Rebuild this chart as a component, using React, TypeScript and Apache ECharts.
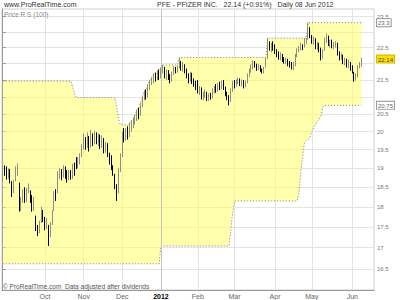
import React, { useEffect, useRef } from 'react';
import * as echarts from 'echarts';

// Month boundaries (trading-day index) and their labels
const monthStarts = [23, 44, 65, 86, 106, 126, 148, 168, 190];
const monthLabels = ['Oct', 'Nov', 'Dec', '2012', 'Feb', 'Mar', 'Apr', 'May', 'Jun'];

// Price grid (log scale) and visible tick labels
const yTickPrices = [16.5, 17, 17.5, 18, 18.5, 19, 19.5, 20, 20.5, 21, 21.5, 22, 22.5, 23, 23.5];
const yLabelPrices = [16.5, 17, 17.5, 18, 18.5, 19, 19.5, 20, 20.5, 21.5, 22.5, 23.5];
const yRange = [16.02, 23.75];

const lastClose = 22.14;
const upperLast = 23.3;
const lowerLast = 20.75;

// Daily bars: [open, close, low, high]  (30 Aug 2011 .. 08 Jun 2012)
const bars: number[][] = [
  [18.75, 18.95, 18.65, 19.05], [18.95, 18.90, 18.80, 19.08],
  [18.95, 18.85, 18.70, 19.05], [18.80, 18.95, 18.72, 19.00], [18.90, 18.70, 18.60, 18.98], [18.62, 18.35, 18.25, 18.66],
  [18.40, 18.60, 18.35, 18.70], [18.70, 18.95, 18.65, 19.05], [18.90, 19.05, 18.80, 19.13], [18.60, 17.95, 17.88, 18.62],
  [17.95, 18.10, 17.90, 18.25], [18.20, 18.30, 18.10, 18.45], [18.35, 18.15, 18.10, 18.50], [18.20, 18.40, 18.12, 18.48],
  [18.40, 18.55, 18.35, 18.60], [18.40, 18.20, 18.10, 18.42], [18.15, 17.95, 17.88, 18.30], [18.00, 18.10, 17.90, 18.25],
  [17.75, 17.45, 17.40, 17.78], [17.40, 17.35, 17.28, 17.55], [17.40, 17.55, 17.35, 17.65], [17.65, 17.90, 17.60, 18.00],
  [17.85, 17.70, 17.62, 17.92], [17.65, 17.50, 17.42, 17.75], [17.55, 17.60, 17.45, 17.72], [17.45, 17.25, 17.04, 17.55],
  [17.30, 17.55, 17.25, 17.62], [17.60, 17.85, 17.55, 17.92], [17.95, 18.30, 17.90, 18.40], [18.35, 18.25, 18.15, 18.45],
  [18.40, 18.85, 18.35, 18.92], [18.85, 18.90, 18.72, 19.00], [18.90, 18.75, 18.68, 18.98], [18.80, 19.00, 18.75, 19.08],
  [18.95, 18.80, 18.72, 19.05], [18.90, 18.70, 18.62, 18.95], [18.75, 18.85, 18.68, 18.95], [18.85, 18.80, 18.70, 18.95],
  [18.85, 19.05, 18.72, 19.12], [19.05, 18.90, 18.80, 19.15], [19.25, 19.05, 18.98, 19.30], [19.05, 19.20, 19.00, 19.30],
  [19.20, 19.30, 19.10, 19.40], [19.35, 19.55, 19.30, 19.65], [19.60, 19.75, 19.50, 19.95], [19.75, 19.60, 19.50, 19.85],
  [19.65, 19.85, 19.55, 19.98], [19.80, 19.55, 19.45, 19.88], [19.60, 19.90, 19.55, 20.05], [19.90, 19.70, 19.60, 19.95],
  [19.75, 19.95, 19.65, 20.02], [19.90, 19.75, 19.65, 19.98], [19.75, 19.85, 19.60, 19.95], [19.85, 19.60, 19.52, 19.92],
  [19.65, 19.80, 19.55, 19.90], [19.75, 19.50, 19.40, 19.82], [19.50, 19.65, 19.42, 19.72], [19.60, 19.35, 19.30, 19.68],
  [19.35, 19.20, 19.10, 19.42], [19.25, 19.00, 18.95, 19.35], [19.00, 18.85, 18.80, 19.08], [18.80, 18.55, 18.45, 18.85],
  [18.50, 18.30, 18.15, 18.58], [18.40, 18.95, 18.35, 19.00], [18.95, 19.30, 18.90, 19.40], [19.35, 19.90, 19.30, 20.00],
  [19.95, 19.80, 19.70, 20.10], [19.80, 20.00, 19.75, 20.10], [20.05, 19.85, 19.78, 20.15], [19.90, 20.10, 19.85, 20.25],
  [20.10, 20.20, 20.00, 20.32], [20.20, 20.25, 20.10, 20.38], [20.30, 20.35, 20.20, 20.48], [20.40, 20.55, 20.30, 20.62],
  [20.55, 20.50, 20.35, 20.68], [20.55, 20.75, 20.45, 20.82], [20.80, 20.95, 20.70, 21.02], [21.00, 21.10, 20.90, 21.18],
  [21.10, 21.00, 20.92, 21.22], [21.05, 21.25, 20.98, 21.38], [21.30, 21.45, 21.20, 21.50], [21.45, 21.50, 21.35, 21.58],
  [21.50, 21.65, 21.40, 21.70], [21.65, 21.55, 21.45, 21.72], [21.55, 21.70, 21.50, 21.78], [21.70, 21.60, 21.50, 21.82],
  [21.65, 21.80, 21.55, 21.88], [21.80, 21.90, 21.70, 21.96], [21.85, 21.60, 21.55, 21.90], [21.60, 21.75, 21.50, 21.82],
  [21.75, 21.60, 21.50, 21.80], [21.60, 21.50, 21.40, 21.68], [21.50, 21.70, 21.45, 21.75], [21.70, 21.85, 21.65, 21.92],
  [21.85, 21.80, 21.70, 21.90], [21.80, 21.90, 21.72, 21.95], [21.95, 22.00, 21.85, 22.19], [22.00, 21.85, 21.78, 22.08],
  [21.85, 21.95, 21.75, 22.05], [21.95, 21.80, 21.70, 21.98], [21.80, 21.65, 21.55, 21.85], [21.65, 21.50, 21.40, 21.70],
  [21.50, 21.70, 21.45, 21.75], [21.65, 21.45, 21.38, 21.72], [21.45, 21.40, 21.30, 21.55], [21.40, 21.30, 21.20, 21.48],
  [21.45, 21.15, 21.10, 21.50], [21.15, 21.25, 21.05, 21.32], [21.20, 21.00, 20.92, 21.28], [21.00, 21.05, 20.90, 21.15],
  [21.05, 21.15, 20.98, 21.22], [21.10, 20.95, 20.88, 21.15], [20.95, 21.05, 20.88, 21.10], [21.05, 21.00, 20.92, 21.12],
  [21.00, 21.20, 20.95, 21.25], [21.20, 21.25, 21.10, 21.32], [21.30, 21.20, 21.12, 21.38], [21.20, 21.35, 21.15, 21.42],
  [21.35, 21.30, 21.20, 21.45], [21.30, 21.40, 21.22, 21.48], [21.45, 21.25, 21.20, 21.50], [21.25, 21.10, 21.02, 21.30],
  [21.10, 21.00, 20.90, 21.15], [21.00, 20.90, 20.75, 21.05], [20.90, 21.20, 20.85, 21.25], [21.20, 21.40, 21.15, 21.48],
  [21.40, 21.35, 21.25, 21.50], [21.35, 21.45, 21.30, 21.52], [21.45, 21.50, 21.38, 21.58], [21.50, 21.40, 21.32, 21.55],
  [21.40, 21.45, 21.30, 21.52], [21.45, 21.35, 21.25, 21.50], [21.35, 21.40, 21.28, 21.48], [21.45, 21.65, 21.40, 21.70],
  [21.65, 21.80, 21.60, 21.85], [21.80, 21.90, 21.72, 21.98], [21.90, 22.00, 21.82, 22.10], [22.00, 21.95, 21.88, 22.08],
  [21.95, 21.85, 21.78, 22.00], [21.85, 21.90, 21.80, 21.98], [21.90, 21.80, 21.75, 21.95], [21.80, 21.75, 21.70, 21.85],
  [21.75, 21.85, 21.70, 21.90], [21.90, 22.15, 21.88, 22.19], [22.20, 22.60, 22.15, 22.80], [22.60, 22.45, 22.40, 22.70],
  [22.45, 22.55, 22.35, 22.65], [22.55, 22.50, 22.40, 22.70], [22.50, 22.40, 22.30, 22.60], [22.40, 22.30, 22.20, 22.45],
  [22.30, 22.20, 22.12, 22.38], [22.20, 22.25, 22.10, 22.35], [22.25, 22.15, 22.05, 22.30], [22.15, 22.05, 22.00, 22.20],
  [22.05, 22.10, 21.98, 22.18], [22.10, 22.00, 21.92, 22.15], [22.00, 21.95, 21.88, 22.08], [21.95, 21.90, 21.82, 22.05],
  [21.90, 21.95, 21.80, 22.05], [21.95, 22.25, 21.92, 22.30], [22.25, 22.40, 22.20, 22.48], [22.40, 22.45, 22.35, 22.55],
  [22.45, 22.55, 22.40, 22.65], [22.55, 22.50, 22.42, 22.60], [22.55, 22.70, 22.50, 22.80], [22.70, 22.78, 22.60, 22.80],
  [22.80, 23.15, 22.75, 23.30], [23.10, 22.85, 22.80, 23.15], [22.85, 22.70, 22.62, 22.90], [22.70, 22.75, 22.60, 22.85],
  [22.75, 22.50, 22.45, 22.80], [22.50, 22.60, 22.42, 22.68], [22.60, 22.45, 22.35, 22.65], [22.45, 22.20, 22.10, 22.50],
  [22.20, 22.40, 22.15, 22.45], [22.45, 22.75, 22.40, 22.82], [22.75, 22.85, 22.65, 22.95], [22.85, 22.60, 22.55, 22.88],
  [22.60, 22.70, 22.50, 22.75], [22.70, 22.55, 22.48, 22.75], [22.55, 22.60, 22.45, 22.68], [22.60, 22.65, 22.50, 22.70],
  [22.60, 22.30, 22.25, 22.65], [22.30, 22.20, 22.10, 22.38], [22.20, 22.25, 22.12, 22.32], [22.25, 22.05, 21.98, 22.28],
  [22.05, 22.10, 21.95, 22.18], [22.10, 21.95, 21.88, 22.15], [21.95, 22.00, 21.85, 22.12], [22.00, 21.85, 21.78, 22.05],
  [21.85, 21.75, 21.70, 21.95], [21.70, 21.50, 21.45, 21.75], [21.50, 21.60, 21.48, 21.70], [21.60, 21.90, 21.58, 21.95],
  [21.90, 21.94, 21.85, 22.05], [21.95, 22.14, 21.90, 22.18],
];

// Channel bands as runs of [value, number of days]
const upperBandRuns: [number, number][] = [
  [21.47, 38], [21.3, 1], [21.1, 1], [20.975, 22], [20.65, 1], [20.35, 1], [20.19, 5],
  [20.25, 1], [20.32, 1], [20.38, 1], [20.48, 1], [20.62, 1], [20.68, 1], [20.82, 1], [21.02, 1], [21.18, 1],
  [21.22, 1], [21.38, 1], [21.5, 1], [21.58, 1], [21.7, 1], [21.72, 1], [21.78, 1], [21.82, 1], [21.88, 1],
  [21.96, 9], [22.19, 48], [22.8, 22], [23.3, 30],
];
const lowerBandRuns: [number, number][] = [
  [16.62, 86], [17.04, 38], [17.45, 1], [17.85, 1], [18.15, 35],
  [18.35, 1], [18.9, 1], [19.3, 1], [19.7, 1], [19.75, 1], [19.78, 1], [19.85, 1], [20.0, 1], [20.1, 1],
  [20.2, 1], [20.3, 1], [20.35, 1], [20.45, 1], [20.7, 1], [20.75, 21],
];

const FONT = '"Liberation Sans", Arial, sans-serif';
const L = Math.log;

export default function App() {
  const ref = useRef<HTMLDivElement>(null);
  useEffect(() => {
    if (!ref.current) return;
    const chart = echarts.init(ref.current, undefined, { renderer: 'svg' });
    const expand = (runs: [number, number][]) => runs.flatMap(([v, n]) => Array(n).fill(v));
    const upper: number[] = expand(upperBandRuns);
    const lower: number[] = expand(lowerBandRuns);
    const candleData = bars.map((b, j) => [j, L(b[0]), L(b[1]), L(b[2]), L(b[3])]);
    const lowerData = lower.map((v, j) => [j, L(v)]);
    const upperData = upper.map((v, j) => [j, L(v)]);
    const bandData = upper.map((v, j) => [j, L(v), L(lower[j])]);
    const near = (a: number, b: number) => Math.abs(a - b) < 1e-6;
    const dotted = { color: '#7a7a7a', width: 1, type: [1, 2] as any };

    chart.setOption({
      animation: false,
      textStyle: { fontFamily: FONT },
      grid: { left: 2, right: 26, top: 9, bottom: 10, show: true, borderColor: '#cfcfcf', borderWidth: 1 },
      graphic: [
        { type: 'text', left: 4, top: 1, style: { text: 'www.ProRealTime.com', fontSize: 7, fill: '#333', fontFamily: FONT } },
        { type: 'text', left: 157, top: 1, style: { text: 'PFE - PFIZER INC.   22.14 (+0.91%)   Daily 08 Jun 2012', fontSize: 7, fill: '#333', fontFamily: FONT } },
        { type: 'text', left: 4, top: 11, z: 10, style: { text: 'Price R S (100)', fontSize: 6.5, fill: '#888', fontFamily: FONT } },
        { type: 'text', left: 3, top: 283, z: 10, style: { text: '© ProRealTime.com  Data adjusted after dividends', fontSize: 6.5, fill: '#555', fontFamily: FONT } },
      ],
      xAxis: {
        type: 'value', min: -0.4, max: 201.8,
        axisLine: { show: true, lineStyle: { color: '#999' } },
        axisTick: { show: false, customValues: monthStarts },
        splitLine: { show: true, lineStyle: { color: '#e4e4e4' } },
        axisLabel: {
          customValues: monthStarts, margin: 3, fontSize: 7, color: '#666', fontFamily: FONT,
          formatter: (v: number) => {
            const i = monthStarts.indexOf(Math.round(v));
            if (i < 0) return '';
            return monthLabels[i] === '2012' ? '{b|2012}' : monthLabels[i];
          },
          rich: { b: { fontWeight: 'bold', color: '#000', fontSize: 7, fontFamily: FONT } },
        },
      },
      yAxis: {
        type: 'value', position: 'right', min: L(yRange[0]), max: L(yRange[1]),
        axisLine: { show: true, lineStyle: { color: '#999' } },
        axisTick: { show: true, length: 3, customValues: yTickPrices.map(L), lineStyle: { color: '#999' } },
        splitLine: { show: true, lineStyle: { color: '#e4e4e4' } },
        axisLabel: {
          customValues: [...yLabelPrices, upperLast, lastClose, lowerLast].map(L),
          margin: 3, fontSize: 6, color: '#777', fontFamily: FONT,
          formatter: (v: number) => {
            const p = Math.exp(v);
            if (near(p, upperLast)) return `{box|${upperLast}}`;
            if (near(p, lowerLast)) return `{box|${lowerLast}}`;
            if (near(p, lastClose)) return `{hl|${lastClose}}`;
            return String(Math.round(p * 100) / 100);
          },
          rich: {
            box: { fontSize: 6, color: '#666', backgroundColor: '#fff', borderColor: '#999', borderWidth: 1, padding: [1, 1, 0, 1], fontFamily: FONT },
            hl: { fontSize: 6, color: '#444', backgroundColor: '#ffdd00', borderColor: '#d4b800', borderWidth: 1, padding: [1, 1, 0, 1], fontFamily: FONT },
          },
        },
      },
      series: [
        {
          type: 'custom', name: 'band', data: bandData, silent: true, z: 1,
          encode: { x: 0, y: [1, 2] },
          renderItem: (params: any, api: any) => {
            if (params.dataIndex !== 0) return null;
            const pts: number[][] = [];
            for (let j = 0; j < upper.length; j++) pts.push(api.coord([j, L(upper[j])]));
            for (let j = lower.length - 1; j >= 0; j--) pts.push(api.coord([j, L(lower[j])]));
            return { type: 'polygon', shape: { points: pts }, style: { fill: 'rgba(255, 255, 90, 0.5)' } };
          },
        },
        {
          type: 'line', name: 'lower', data: lowerData, symbol: 'none', silent: true, z: 2,
          lineStyle: dotted,
          markLine: {
            silent: true, symbol: 'none', label: { show: false },
            lineStyle: { color: '#c4c4c4', type: 'solid', width: 1 },
            data: [{ xAxis: monthStarts[3] }],
          },
        },
        {
          type: 'line', name: 'upper', data: upperData, symbol: 'none', silent: true, z: 2,
          lineStyle: dotted,
        },
        {
          type: 'candlestick', name: 'PFE', data: candleData, barWidth: 1, silent: true, z: 3,
          itemStyle: { color: '#a8a8a8', color0: '#000', borderColor: '#8c8c8c', borderColor0: '#000', borderWidth: 1 },
        },
      ],
    });
    return () => chart.dispose();
  }, []);
  return <div ref={ref} style={{ position: 'absolute', left: 0, top: 0, width: 400, height: 300 }} />;
}
